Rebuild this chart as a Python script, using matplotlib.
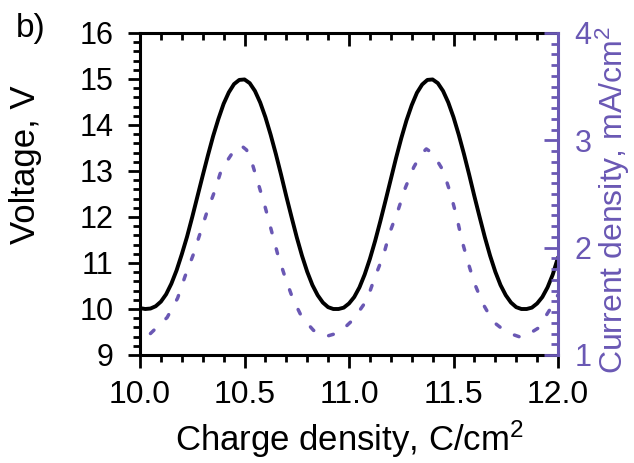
import numpy as np
import matplotlib
matplotlib.use("Agg")
import matplotlib.pyplot as plt
from matplotlib.ticker import MultipleLocator

plt.rcParams['font.family'] = ['Liberation Sans', 'DejaVu Sans']
plt.rcParams['mathtext.default'] = 'regular'

purple = '#6a58b4'

# voltage curve (black, solid)
charge_v = [10.000, 10.025, 10.050, 10.075, 10.100, 10.125, 10.150, 10.175, 10.200, 10.225,
            10.250, 10.275, 10.300, 10.325, 10.350, 10.375, 10.400, 10.425, 10.450, 10.475,
            10.500, 10.525, 10.550, 10.575, 10.600, 10.625, 10.650, 10.675, 10.700, 10.725,
            10.750, 10.775, 10.800, 10.825, 10.850, 10.875, 10.900, 10.925, 10.950, 10.975,
            11.000, 11.025, 11.050, 11.075, 11.100, 11.125, 11.150, 11.175, 11.200, 11.225,
            11.250, 11.275, 11.300, 11.325, 11.350, 11.375, 11.400, 11.425, 11.450, 11.475,
            11.500, 11.525, 11.550, 11.575, 11.600, 11.625, 11.650, 11.675, 11.700, 11.725,
            11.750, 11.775, 11.800, 11.825, 11.850, 11.875, 11.900, 11.925, 11.950, 11.975,
            12.000]
voltage = [10.02, 10.00, 10.01, 10.06, 10.16, 10.32, 10.55, 10.84, 11.19, 11.57,
           12.00, 12.45, 12.90, 13.34, 13.76, 14.13, 14.46, 14.71, 14.89, 14.98,
           14.99, 14.91, 14.74, 14.49, 14.17, 13.79, 13.37, 12.92, 12.45, 12.00,
           11.56, 11.16, 10.81, 10.52, 10.30, 10.14, 10.04, 10.00, 10.00, 10.03,
           10.12, 10.26, 10.47, 10.75, 11.09, 11.48, 11.91, 12.36, 12.82, 13.28,
           13.71, 14.10, 14.43, 14.70, 14.88, 14.98, 14.99, 14.91, 14.74, 14.49,
           14.17, 13.79, 13.37, 12.92, 12.45, 12.00, 11.56, 11.16, 10.81, 10.52,
           10.30, 10.14, 10.04, 10.00, 10.00, 10.03, 10.12, 10.26, 10.47, 10.75,
           11.12]

# current density (purple, dashed)
charge_i = [10.05, 10.13, 10.18, 10.215, 10.254, 10.287, 10.32, 10.356, 10.39, 10.455,
            10.485, 10.51, 10.536, 10.57, 10.60, 10.63, 10.66, 10.695, 10.73, 10.775,
            10.83, 10.885, 10.955, 11.02, 11.085, 11.125, 11.165, 11.195, 11.235, 11.27,
            11.31, 11.345, 11.37, 11.40, 11.45, 11.485, 11.515, 11.54, 11.57, 11.60,
            11.64, 11.69, 11.755, 11.83, 11.905, 11.96, 12.0]
current = [1.20, 1.35, 1.53, 1.73, 1.93, 2.13, 2.33, 2.52, 2.73, 2.92,
           2.95, 2.91, 2.79, 2.57, 2.37, 2.15, 1.93, 1.72, 1.53, 1.35,
           1.23, 1.17, 1.21, 1.33, 1.51, 1.73, 1.93, 2.14, 2.35, 2.56,
           2.75, 2.87, 2.92, 2.88, 2.72, 2.51, 2.29, 2.07, 1.86, 1.67,
           1.48, 1.31, 1.21, 1.16, 1.25, 1.42, 1.56]

fig = plt.figure(figsize=(6.34, 4.63), dpi=100)
ax = fig.add_axes([140/634, 1-355/463, 418/634, 322/463])
ax2 = ax.twinx()

ax.plot(charge_v, voltage, color='black', lw=2.8, solid_capstyle='round', zorder=3)
ax2.plot(charge_i, current, color=purple, lw=2.5, dashes=(1.4, 4.8),
         dash_capstyle='round')

ax.set_xlim(10.0, 12.0)
ax.set_ylim(9, 16)
ax2.set_ylim(1, 4)

ax.xaxis.set_major_locator(MultipleLocator(0.5))
ax.xaxis.set_minor_locator(MultipleLocator(0.1))
ax.yaxis.set_major_locator(MultipleLocator(1))
ax.yaxis.set_minor_locator(MultipleLocator(0.2))
ax2.yaxis.set_major_locator(MultipleLocator(1))
ax2.yaxis.set_minor_locator(MultipleLocator(0.1))
ax.xaxis.set_major_formatter(matplotlib.ticker.FormatStrFormatter('%.1f'))

for s in ['left', 'bottom', 'top']:
    ax.spines[s].set_linewidth(2.2)
ax.spines['right'].set_visible(False)
for s in ['left', 'bottom', 'top']:
    ax2.spines[s].set_visible(False)
ax2.spines['right'].set_color(purple)
ax2.spines['right'].set_linewidth(2.2)

ax.tick_params(axis='x', which='both', direction='out', width=2, labelsize=23, pad=9)
ax.tick_params(axis='x', which='major', length=9)
ax.tick_params(axis='x', which='minor', length=5)
ax.tick_params(axis='x', which='both', top=True, bottom=True)
# top ticks point inward
for t in ax.xaxis.get_major_ticks() + ax.xaxis.get_minor_ticks():
    t.tick2line.set_marker(3)
ax.tick_params(axis='y', which='both', direction='out', width=2, labelsize=22, pad=10)
ax.tick_params(axis='y', which='major', length=9)
ax.tick_params(axis='y', which='minor', length=5)

ax2.tick_params(axis='y', which='both', direction='in', width=2, colors=purple,
                labelsize=22, pad=12)
ax2.tick_params(axis='y', which='major', length=10)
ax2.tick_params(axis='y', which='minor', length=5)

ax.set_xlabel('Charge density, C/cm$^{2}$', fontsize=25, labelpad=6)
ax.set_ylabel('Voltage, V', fontsize=25)
ax.yaxis.set_label_coords(-0.235, 0.59)
ax2.set_ylabel('Current density, mA/cm$^{2}$', fontsize=23, color=purple)
ax2.yaxis.set_label_coords(1.085, 0.48)

fig.text(16/634, 1-28/463, 'b)', fontsize=24, va='center', ha='left')

fig.savefig('out.png', dpi=100)
